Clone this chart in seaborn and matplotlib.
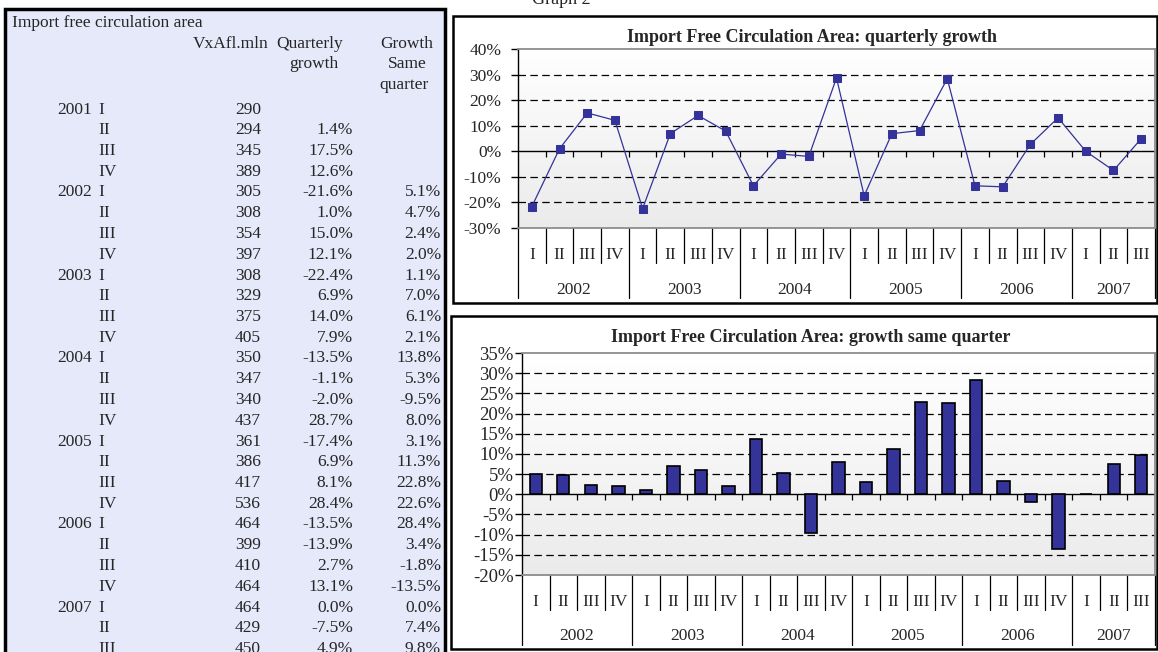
import numpy as np
import pandas as pd
import matplotlib
matplotlib.use("Agg")
import matplotlib.pyplot as plt
import matplotlib.transforms as mtransforms
from matplotlib.patches import Rectangle
from matplotlib.colors import LinearSegmentedColormap
import seaborn as sns

# %% data read off the table
years = [2001, 2002, 2003, 2004, 2005, 2006, 2007]
quarters = ["I", "II", "III", "IV"]
vxafl = [290, 294, 345, 389, 305, 308, 354, 397, 308, 329, 375, 405, 350, 347,
         340, 437, 361, 386, 417, 536, 464, 399, 410, 464, 464, 429, 450]
q_growth = [None, 1.4, 17.5, 12.6, -21.6, 1.0, 15.0, 12.1, -22.4, 6.9, 14.0, 7.9,
            -13.5, -1.1, -2.0, 28.7, -17.4, 6.9, 8.1, 28.4, -13.5, -13.9, 2.7,
            13.1, 0.0, -7.5, 4.9]
s_growth = [None, None, None, None, 5.1, 4.7, 2.4, 2.0, 1.1, 7.0, 6.1, 2.1, 13.8,
            5.3, -9.5, 8.0, 3.1, 11.3, 22.8, 22.6, 28.4, 3.4, -1.8, -13.5, 0.0,
            7.4, 9.8]

row_year = [y for y in years for q in quarters][:len(vxafl)]
row_q = [q for y in years for q in quarters][:len(vxafl)]

df = pd.DataFrame({"year": row_year, "q": row_q, "vx": vxafl,
                   "qg": q_growth, "sg": s_growth})
chart = df[df["year"] >= 2002].reset_index(drop=True)
chart["label"] = chart["year"].astype(str) + " " + chart["q"]
chart["pos"] = chart.index

# %% figure setup
sns.set_style("white")
plt.rcParams["font.family"] = ["Liberation Serif", "DejaVu Serif"]
W, H = 1158, 652
fig = plt.figure(figsize=(W / 100, H / 100), dpi=100)


def fx(x):
    return x / W


def fy(y):
    return 1 - y / H


blue = "#333399"
FS = 12.5

# %% left table panel
fig.add_artist(Rectangle((fx(5), fy(670)), fx(445) - fx(5), fy(9) - fy(670),
                         transform=fig.transFigure, facecolor="#E6E9FA",
                         edgecolor="black", lw=2.5, zorder=-1))
fig.text(fx(12), fy(27), "Import free circulation area", fontsize=FS, va="baseline")
fig.text(fx(269), fy(48), "VxAfl.mln", fontsize=FS, ha="right", va="baseline")
fig.text(fx(310), fy(48), "Quarterly", fontsize=FS, ha="center", va="baseline")
fig.text(fx(314), fy(68), "growth", fontsize=FS, ha="center", va="baseline")
fig.text(fx(407), fy(48), "Growth", fontsize=FS, ha="center", va="baseline")
fig.text(fx(407), fy(68), "Same", fontsize=FS, ha="center", va="baseline")
fig.text(fx(404), fy(89), "quarter", fontsize=FS, ha="center", va="baseline")

for i, r in df.iterrows():
    base = fy(113.5 + 20.75 * i)
    if r["q"] == "I":
        fig.text(fx(92), base, str(r["year"]), fontsize=FS, ha="right", va="baseline")
    fig.text(fx(98), base, r["q"], fontsize=FS, ha="left", va="baseline")
    fig.text(fx(261), base, str(r["vx"]), fontsize=FS, ha="right", va="baseline")
    if pd.notna(r["qg"]):
        fig.text(fx(353), base, f"{r['qg']:.1f}%", fontsize=FS, ha="right", va="baseline")
    if pd.notna(r["sg"]):
        fig.text(fx(441), base, f"{r['sg']:.1f}%", fontsize=FS, ha="right", va="baseline")

fig.text(fx(532), fy(4), "Graph 2", fontsize=13, va="baseline")

# %% chart frames
fig.add_artist(Rectangle((fx(453), fy(303)), fx(1157) - fx(453), fy(16) - fy(303),
                         transform=fig.transFigure, facecolor="white",
                         edgecolor="black", lw=1.8, zorder=-1))
fig.add_artist(Rectangle((fx(451), fy(649)), fx(1157) - fx(451), fy(316) - fy(649),
                         transform=fig.transFigure, facecolor="white",
                         edgecolor="black", lw=1.8, zorder=-1))

bg = LinearSegmentedColormap.from_list("bg", ["#FFFFFF", "#EBEBEB"])
n = len(chart)
year_bounds = [-0.5] + [chart[chart["year"] == y]["pos"].max() + 0.5 for y in years[1:]]


def style_axes(ax, ylo, yhi, step, bot_px, qlab_px, qdiv_px, ylab_px, ydiv_px, pad, tfs):
    ax.imshow(np.linspace(0, 1, 200).reshape(-1, 1), cmap=bg, aspect="auto",
              extent=(-0.5, n - 0.5, ylo, yhi), origin="upper", zorder=0)
    ax.set_xlim(-0.5, n - 0.5)
    ax.set_ylim(ylo, yhi)
    ticks = np.arange(ylo, yhi + 1, step)
    ax.set_yticks(ticks, [f"{t}%" for t in ticks])
    ax.tick_params(axis="y", length=5, width=1, color="black", direction="out",
                   pad=pad, labelsize=tfs, left=True)
    ax.tick_params(axis="x", bottom=False, labelbottom=False)
    ax.grid(axis="y", color="black", ls=(0, (6, 3.5)), lw=0.9)
    for gl, t in zip(ax.get_ygridlines(), ticks):
        if t in (ylo, yhi, 0):
            gl.set_visible(False)
    ax.grid(axis="x", visible=False)
    ax.set_xlabel("")
    ax.set_ylabel("")
    for s in ["top", "right", "bottom"]:
        ax.spines[s].set_color("#8C8C8C")
        ax.spines[s].set_linewidth(1.3)
    ax.spines["left"].set_color("black")
    ax.spines["left"].set_linewidth(1)
    ax.axhline(0, color="black", lw=1, zorder=1.8)
    ax.plot(np.arange(0.5, n - 1, 1), np.zeros(n - 1), ls="none", marker=3, ms=4,
            mew=0.9, color="black", zorder=1.9)

    bt = mtransforms.blended_transform_factory(ax.transData, fig.transFigure)
    for b in np.arange(-0.5, n, 1):
        end = ydiv_px if b in year_bounds else qdiv_px
        ax.plot([b, b], [fy(bot_px), fy(end)], transform=bt, color="black",
                lw=0.9, clip_on=False)
    for i, q in enumerate(chart["q"]):
        ax.text(i, fy(qlab_px), q, transform=bt, ha="center", va="baseline", fontsize=FS)
    for y, grp in chart.groupby("year"):
        ax.text(grp["pos"].mean(), fy(ylab_px), str(y), transform=bt,
                ha="center", va="baseline", fontsize=FS)


# %% chart 1: quarterly growth
ax1 = fig.add_axes([fx(518), fy(228), fx(1155) - fx(518), fy(49) - fy(228)])
sns.lineplot(data=chart, x="pos", y="qg", ax=ax1, color=blue, lw=0.9,
             marker="s", markersize=6, markeredgecolor=blue, zorder=3)
style_axes(ax1, -30, 40, 10, 228, 259, 263, 294, 298, pad=7, tfs=12.5)
fig.text(fx(812), fy(37), "Import Free Circulation Area: quarterly growth",
         ha="center", va="center", fontsize=13, weight="bold")

# %% chart 2: growth same quarter
ax2 = fig.add_axes([fx(522), fy(575), fx(1155) - fx(522), fy(353) - fy(575)])
sns.barplot(data=chart, x="label", y="sg", ax=ax2, color=blue, width=0.45,
            edgecolor="black", linewidth=1.2, saturation=1, zorder=2)
style_axes(ax2, -20, 35, 5, 575, 606, 610, 640, 645, pad=1, tfs=13.5)
fig.text(fx(811), fy(338), "Import Free Circulation Area: growth same quarter",
         ha="center", va="center", fontsize=13, weight="bold")

fig.savefig("out.png", dpi=100)
